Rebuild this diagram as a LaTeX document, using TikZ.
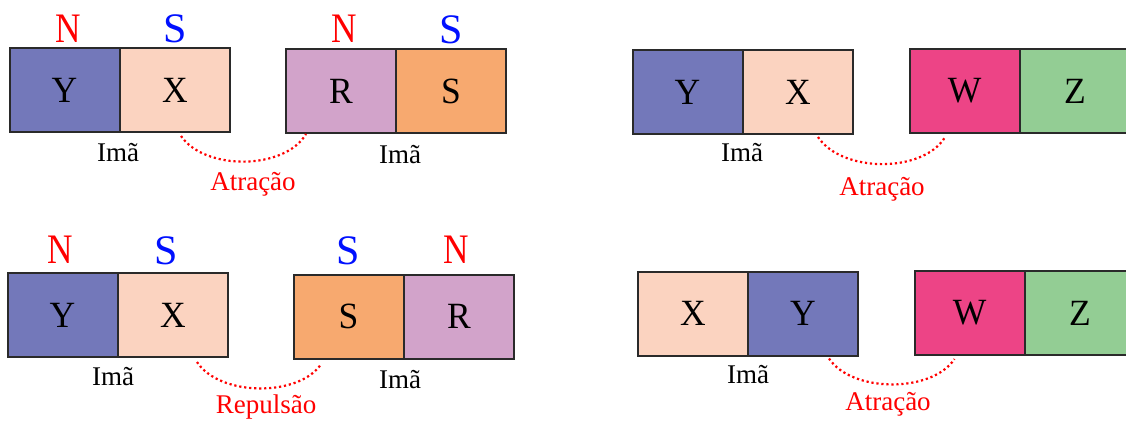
\documentclass[tikz,border=0pt]{standalone}
\usepackage{fontspec}
\usepackage{graphicx}
\setmainfont{Liberation Serif}
\definecolor{cy}{HTML}{7378BA}
\definecolor{cx}{HTML}{FBD3C0}
\definecolor{cr}{HTML}{D2A3CA}
\definecolor{cs}{HTML}{F7A96F}
\definecolor{cw}{HTML}{ED4486}
\definecolor{cz}{HTML}{93CD94}
\definecolor{edge}{HTML}{2A2A2A}
\definecolor{pn}{HTML}{FF0000}
\definecolor{ps}{HTML}{0010FF}
\tikzset{
  half/.style={draw=edge, line width=2pt, minimum width=110pt, minimum height=84pt,
    inner sep=0pt, font=\fontsize{37}{40}\selectfont},
  pole/.style={anchor=base, inner sep=0pt, font=\fontsize{42}{44}\selectfont},
  poleN/.style={pole, text=pn},
  poleS/.style={pole, text=ps},
  tag/.style={inner sep=0pt, font=\fontsize{27}{30}\selectfont},
  force/.style={anchor=base, inner sep=0pt, text=pn, font=\fontsize{27}{30}\selectfont},
  link/.style={draw=pn, line width=2.2pt, dash pattern=on 2.2pt off 2.8pt}
}
\newcommand{\lt}[1]{\scalebox{0.96}[1]{#1}}
\newcommand{\nN}{\scalebox{0.84}[1]{N}}
\begin{document}
\begin{tikzpicture}[x=1pt, y=-1pt]
\useasboundingbox (0,0) rectangle (1126,421);

% ---- top left: two magnets, attraction ----
\node[half, fill=cy] (y1) at (64.5,90) {\lt{Y}};
\node[half, fill=cx] (x1) at (175,90) {\lt{X}};
\node[half, fill=cr] (r1) at (341,91) {\lt{R}};
\node[half, fill=cs] (s1) at (451,91) {\lt{S}};
\node[poleN] (n1a) at (68,42) {\nN};
\node[poleS] (s1a) at (175,42) {S};
\node[poleN] (n1b) at (344.5,42) {\nN};
\node[poleS] (s1b) at (451,43) {S};
\node[tag] (i1a) at (118,153) {Imã};
\node[tag] (i1b) at (400,155) {Imã};
\node[force] (f1) at (253,190) {Atração};
\draw[link] ([shift={(6,3)}]x1.south) .. controls (205,171) and (285,170) .. ([shift={(21,0)}]r1.south west);

% ---- top right: magnet and body, attraction ----
\node[half, fill=cy] (y2) at (687.5,92) {\lt{Y}};
\node[half, fill=cx] (x2) at (798,92) {\lt{X}};
\node[half, fill=cw] (w2) at (964.5,91) {\lt{W}};
\node[half, fill=cz] (z2) at (1075,91) {\lt{Z}};
\node[tag] (i2) at (742,153) {Imã};
\node[force] (f2) at (882,195) {Atração};
\draw[link] ([shift={(20,2)}]x2.south) .. controls (842,173) and (922,173) .. ([shift={(36,4)}]w2.south west);

% ---- bottom left: two magnets, repulsion ----
\node[half, fill=cy] (y3) at (62.5,315) {\lt{Y}};
\node[half, fill=cx] (x3) at (173,315) {\lt{X}};
\node[half, fill=cs] (s3) at (348.5,316.5) {\lt{S}};
\node[half, fill=cr] (r3) at (459,316.5) {\lt{R}};
\node[poleN] (n3a) at (60.5,263) {\nN};
\node[poleS] (s3a) at (166,264) {S};
\node[poleS] (s3b) at (348,264) {S};
\node[poleN] (n3b) at (456,263) {\nN};
\node[tag] (i3a) at (113,377) {Imã};
\node[tag] (i3b) at (400,380) {Imã};
\node[force] (f3) at (266,413) {Repulsão};
\draw[link] ([shift={(24,4)}]x3.south) .. controls (220,397) and (300,397) .. ([shift={(29,4)}]s3.south west);

% ---- bottom right: magnet and body, attraction ----
\node[half, fill=cx] (x4) at (693,313.5) {\lt{X}};
\node[half, fill=cy] (y4) at (803,313.5) {\lt{Y}};
\node[half, fill=cw] (w4) at (969.5,313) {\lt{W}};
\node[half, fill=cz] (z4) at (1080,313) {\lt{Z}};
\node[tag] (i4) at (748,375) {Imã};
\node[force] (f4) at (888,410) {Atração};
\draw[link] ([shift={(26,2)}]y4.south) .. controls (852,393) and (932,393) .. ([shift={(41,3)}]w4.south west);
\end{tikzpicture}
\end{document}
